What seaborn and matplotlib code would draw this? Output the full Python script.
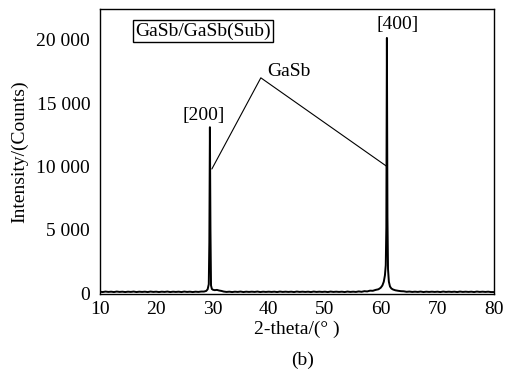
import matplotlib
matplotlib.use("Agg")
import matplotlib.pyplot as plt
import seaborn as sns
import pandas as pd

# ---- data ----
two_theta = [
    10.0, 10.5, 11.0, 11.5, 12.0, 12.5, 13.0, 13.5, 14.0, 14.5, 15.0, 15.5, 16.0, 16.5,
    17.0, 17.5, 18.0, 18.5, 19.0, 19.5, 20.0, 20.5, 21.0, 21.5, 22.0, 22.5, 23.0, 23.5,
    24.0, 24.5, 25.0, 25.5, 26.0, 26.5, 27.0, 27.5, 28.0, 28.5, 28.9, 29.15, 29.35, 29.45,
    29.55, 29.65, 29.75, 29.9, 30.1, 30.4, 30.8, 31.2, 31.6, 32.0, 32.5, 33.0, 33.5, 34.0,
    34.5, 35.0, 35.5, 36.0, 36.5, 37.0, 37.5, 38.0, 38.5, 39.0, 39.5, 40.0, 40.5, 41.0,
    41.5, 42.0, 42.5, 43.0, 43.5, 44.0, 44.5, 45.0, 45.5, 46.0, 46.5, 47.0, 47.5, 48.0,
    48.5, 49.0, 49.5, 50.0, 50.5, 51.0, 51.5, 52.0, 52.5, 53.0, 53.5, 54.0, 54.5, 55.0,
    55.5, 56.0, 56.5, 57.0, 57.5, 58.0, 58.5, 59.0, 59.5, 59.9, 60.2, 60.45, 60.65, 60.8,
    60.9, 61.0, 61.1, 61.2, 61.35, 61.55, 61.8, 62.1, 62.5, 63.0, 63.5, 64.0, 64.5, 65.0,
    65.5, 66.0, 66.5, 67.0, 67.5, 68.0, 68.5, 69.0, 69.5, 70.0, 70.5, 71.0, 71.5, 72.0,
    72.5, 73.0, 73.5, 74.0, 74.5, 75.0, 75.5, 76.0, 76.5, 77.0, 77.5, 78.0, 78.5, 79.0,
    79.5, 80.0,
]
intensity = [
    110, 80, 120, 90, 110, 80, 120, 90, 110, 80, 110, 90, 120, 80,
    110, 90, 110, 80, 120, 90, 110, 80, 110, 90, 120, 80, 110, 90,
    110, 80, 120, 90, 110, 80, 110, 90, 120, 120, 170, 300, 700, 4000,
    13100, 5000, 600, 320, 260, 230, 250, 200, 170, 120, 90, 110, 80, 110,
    90, 120, 80, 110, 90, 110, 90, 120, 80, 110, 90, 110, 90, 110,
    80, 120, 90, 110, 90, 110, 80, 120, 90, 110, 90, 110, 80, 120,
    90, 110, 90, 110, 80, 120, 90, 110, 90, 110, 80, 120, 90, 110,
    90, 130, 100, 150, 130, 190, 180, 250, 300, 420, 600, 900, 1400, 2200,
    5200, 20150, 6000, 1900, 900, 520, 360, 280, 220, 180, 150, 140, 100, 120,
    90, 110, 90, 120, 80, 110, 90, 110, 90, 110, 80, 120, 90, 110,
    90, 110, 80, 120, 90, 110, 90, 110, 80, 120, 90, 110, 90, 110,
    80, 80,
]

# GaSb annotation guide (from [200] peak to label apex to [400] peak)
gasb_x = [29.9, 38.6, 61.0]
gasb_y = [9800, 17000, 10000]

x_ticks = [10, 20, 30, 40, 50, 60, 70, 80]
y_ticks = [0, 5000, 10000, 15000, 20000]
y_tick_labels = ["0", "5 000", "10 000", "15 000", "20 000"]

df = pd.DataFrame({"two_theta": two_theta, "intensity": intensity})

sns.set_theme(style="ticks")
plt.rcParams["font.family"] = ["Liberation Serif", "DejaVu Serif"]
plt.rcParams["text.color"] = "black"
plt.rcParams["axes.labelcolor"] = "black"

fig = plt.figure(figsize=(5.07, 3.78), dpi=100)
ax = fig.add_axes([0.197, 0.222, 0.777, 0.753])

sns.lineplot(data=df, x="two_theta", y="intensity", ax=ax, sort=False,
             estimator=None, color="black", linewidth=1.4)
ax.plot(gasb_x, gasb_y, color="black", linewidth=0.8)

ax.set_xlim(10, 80)
ax.set_ylim(-80, 22400)
ax.set_xticks(x_ticks)
ax.set_xticklabels([str(t) for t in x_ticks])
ax.set_yticks(y_ticks)
ax.set_yticklabels(y_tick_labels)
ax.tick_params(axis="both", length=0, labelsize=14, colors="black")
ax.tick_params(axis="x", pad=5)
ax.tick_params(axis="y", pad=7)
for s in ax.spines.values():
    s.set_color("black")
    s.set_linewidth(1.0)

ax.set_xlabel("2-theta/(° )", fontsize=14, labelpad=2, color="black")
ax.set_ylabel("Intensity/(Counts)", fontsize=14, labelpad=6, color="black")
fig.text(0.597, 0.048, "(b)", fontsize=14, ha="center", va="center", color="black")

ax.text(28.5, 14000, "[200]", fontsize=14, ha="center", va="center", color="black")
ax.text(62.9, 21200, "[400]", fontsize=14, ha="center", va="center", color="black")
ax.text(39.8, 17500, "GaSb", fontsize=14, ha="left", va="center", color="black")
ax.text(0.261, 0.924, "GaSb/GaSb(Sub)", fontsize=14, ha="center", va="center",
        transform=ax.transAxes, color="black",
        bbox=dict(boxstyle="square,pad=0.12", facecolor="white",
                  edgecolor="black", linewidth=1.0))

fig.savefig("out.png", dpi=100)
